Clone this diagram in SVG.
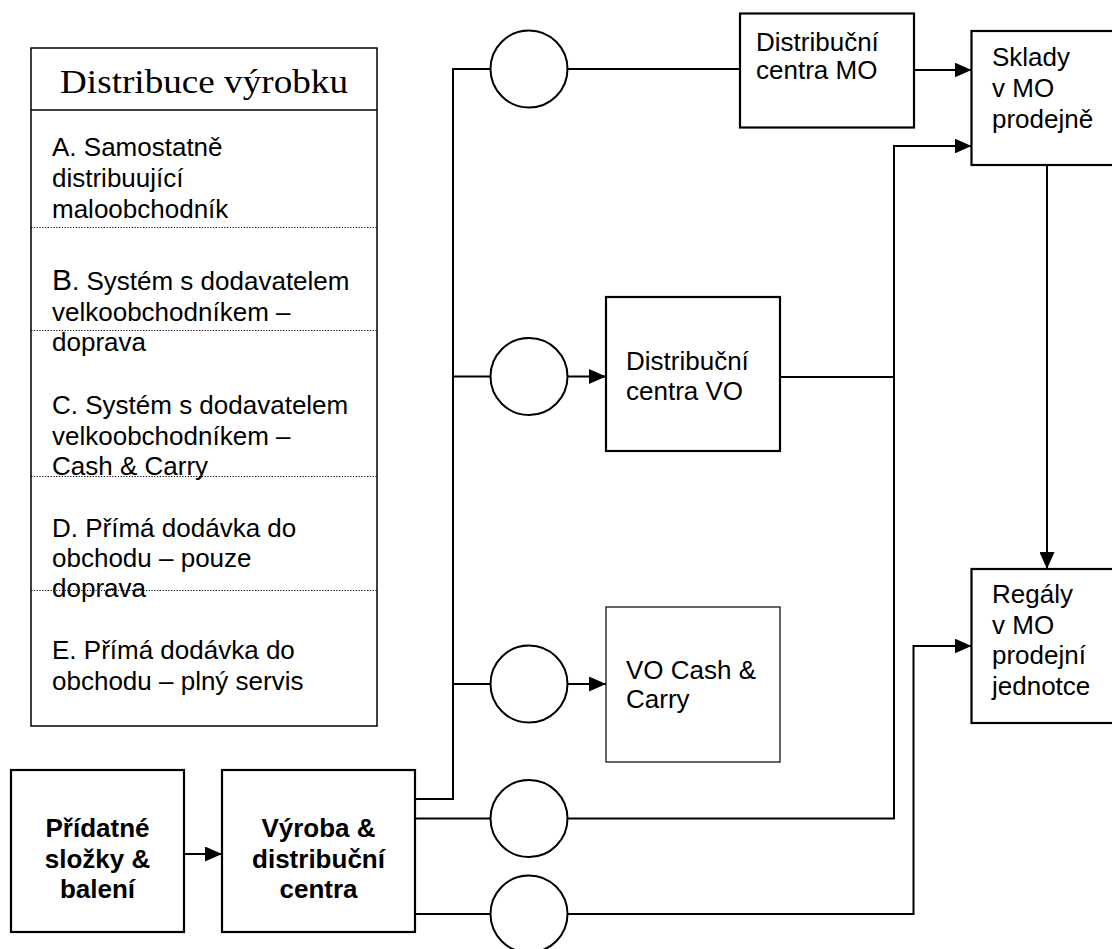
<svg xmlns="http://www.w3.org/2000/svg" width="1112" height="949" viewBox="0 0 1112 949">
<style>
.bg{fill:#fff}
.box{fill:#fff;stroke:#000;stroke-width:2.2}
.thin{fill:#fff;stroke:#000;stroke-width:1.2}
.leg{fill:#fff;stroke:#000;stroke-width:1.5}
.dot{stroke:#000;stroke-width:1.2;stroke-dasharray:1.2 1.6;fill:none}
.circ{fill:#fff;stroke:#000;stroke-width:2}
.con{fill:none;stroke:#000;stroke-width:2}
.t{font-family:"Liberation Sans",Arial,sans-serif;font-size:26px;fill:#000}
.b{font-family:"Liberation Sans",Arial,sans-serif;font-size:26px;font-weight:bold;fill:#000}
.title{font-family:"Liberation Serif","Times New Roman",serif;font-size:34px;fill:#000}
</style>
<defs>
<marker id="arr" markerUnits="userSpaceOnUse" markerWidth="17" markerHeight="15" refX="17" refY="7.5" orient="auto">
<path d="M0,0 L17,7.5 L0,15 z" fill="#000"/>
</marker>
</defs>
<rect class="bg" x="0" y="0" width="1112" height="949"/>

<g id="legend">
<rect class="leg" x="31" y="48" width="346" height="678"/>
<line x1="31" y1="110" x2="377" y2="110" stroke="#000" stroke-width="1.5"/>
<text class="title" x="204" y="93" text-anchor="middle" textLength="288" lengthAdjust="spacingAndGlyphs">Distribuce výrobku</text>
<line class="dot" x1="31" y1="227.5" x2="377" y2="227.5"/>
<line class="dot" x1="31" y1="330.5" x2="377" y2="330.5"/>
<line class="dot" x1="31" y1="476.5" x2="377" y2="476.5"/>
<line class="dot" x1="31" y1="590.5" x2="377" y2="590.5"/>
<text class="t" x="52" y="156">A. Samostatně</text>
<text class="t" x="52" y="187">distribuující</text>
<text class="t" x="52" y="218">maloobchodník</text>
<text class="t" x="52" y="290"><tspan font-size="30">B</tspan>. Systém s dodavatelem</text>
<text class="t" x="52" y="321">velkoobchodníkem –</text>
<text class="t" x="52" y="351">doprava</text>
<text class="t" x="52" y="414">C. Systém s dodavatelem</text>
<text class="t" x="52" y="444.5">velkoobchodníkem –</text>
<text class="t" x="52" y="475">Cash &amp; Carry</text>
<text class="t" x="52" y="536.5">D. Přímá dodávka do</text>
<text class="t" x="52" y="567">obchodu – pouze</text>
<text class="t" x="52" y="597">doprava</text>
<text class="t" x="52" y="659">E. Přímá dodávka do</text>
<text class="t" x="52" y="690">obchodu – plný servis</text>
</g>

<g id="connectors">
<path class="con" d="M415,799 H453 V69 H490.5"/>
<path class="con" d="M453,376.5 H490.5"/>
<path class="con" d="M453,684 H490.5"/>
<path class="con" d="M567.5,69 H740"/>
<path class="con" d="M914,70 H971.5" marker-end="url(#arr)"/>
<path class="con" d="M567.5,376.5 H606" marker-end="url(#arr)"/>
<path class="con" d="M567.5,684 H606" marker-end="url(#arr)"/>
<path class="con" d="M780,377 H894"/>
<path class="con" d="M415,818.5 H490.5"/>
<path class="con" d="M567.5,818.5 H894 V146 H971.5" marker-end="url(#arr)"/>
<path class="con" d="M415,914 H490.5"/>
<path class="con" d="M567.5,914 H913.5 V646 H971.5" marker-end="url(#arr)"/>
<path class="con" d="M1047,165 V569" marker-end="url(#arr)"/>
<path class="con" d="M184,854 H222" marker-end="url(#arr)"/>
</g>

<g id="circle1"><ellipse class="circ" cx="529" cy="69" rx="38.5" ry="38.5"/></g>
<g id="circle2"><ellipse class="circ" cx="529" cy="376.5" rx="38.5" ry="38.5"/></g>
<g id="circle3"><ellipse class="circ" cx="529" cy="684" rx="38.5" ry="38.5"/></g>
<g id="circle4"><ellipse class="circ" cx="529" cy="818.5" rx="38.5" ry="38.5"/></g>
<g id="circle5"><ellipse class="circ" cx="529" cy="914" rx="38.5" ry="38.5"/></g>

<g id="dc-mo">
<rect class="box" x="740" y="13.5" width="174" height="114"/>
<text class="t" x="756" y="50.5">Distribuční</text>
<text class="t" x="756" y="79">centra MO</text>
</g>

<g id="sklady">
<rect class="box" x="971.5" y="31" width="160" height="134"/>
<text class="t" x="992" y="66">Sklady</text>
<text class="t" x="992" y="97">v MO</text>
<text class="t" x="992" y="128">prodejně</text>
</g>

<g id="dc-vo">
<rect class="box" x="606" y="297" width="174" height="154"/>
<text class="t" x="626" y="369.5">Distribuční</text>
<text class="t" x="626" y="399.5">centra VO</text>
</g>

<g id="vo-cash">
<rect class="thin" x="606" y="607" width="174" height="155"/>
<text class="t" x="626" y="679">VO Cash &amp;</text>
<text class="t" x="626" y="708">Carry</text>
</g>

<g id="regaly">
<rect class="box" x="971.5" y="569" width="160" height="154"/>
<text class="t" x="992" y="603">Regály</text>
<text class="t" x="992" y="633.5">v MO</text>
<text class="t" x="992" y="664">prodejní</text>
<text class="t" x="992" y="694.5">jednotce</text>
</g>

<g id="pridatne">
<rect class="box" x="11" y="770" width="173" height="162"/>
<text class="b" x="97.5" y="837" text-anchor="middle">Přídatné</text>
<text class="b" x="97.5" y="867.5" text-anchor="middle">složky &amp;</text>
<text class="b" x="97.5" y="898" text-anchor="middle">balení</text>
</g>

<g id="vyroba">
<rect class="box" x="222" y="770" width="193" height="162"/>
<text class="b" x="318.5" y="837" text-anchor="middle">Výroba &amp;</text>
<text class="b" x="318.5" y="867.5" text-anchor="middle">distribuční</text>
<text class="b" x="318.5" y="898" text-anchor="middle">centra</text>
</g>
</svg>
